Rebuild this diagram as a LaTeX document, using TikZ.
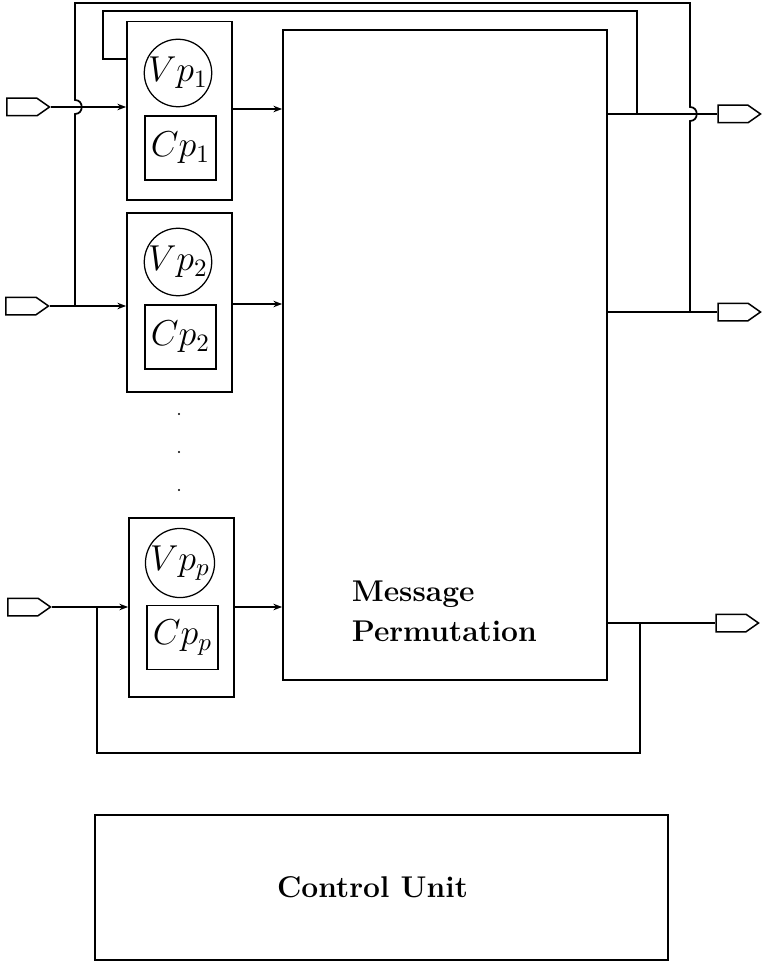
\documentclass[tikz,border=0pt]{standalone}
\usepackage{tikz}
\usetikzlibrary{arrows.meta, calc}
\usetikzlibrary{positioning, shapes.symbols}

\tikzset{
  wire/.style={line width=0.7pt},
  flow/.style={wire, -{Stealth[length=3.5pt,width=2.6pt]}},
  port/.style={draw, line width=0.6pt, signal, signal to=east, signal pointer angle=70,
    minimum width=17pt, minimum height=7pt, inner sep=0pt},
  pebox/.style={draw, line width=0.7pt, minimum width=42pt, minimum height=71.5pt},
  vpcirc/.style={draw, circle, line width=0.5pt, minimum size=25.6pt, inner sep=0pt, font=\Large},
  cpbox/.style={draw, line width=0.7pt, minimum width=28.4pt, minimum height=25.6pt, inner sep=0pt, font=\Large},
}

\begin{document}
\begin{tikzpicture}[x=0.4pt, y=-0.4pt]
    \useasboundingbox (0,0) rectangle (761,965);
    \node[pebox] (pe1) at (179.5,111) {};
    \node[vpcirc] (vp1) at (178,73) {$Vp_1$};
    \node[cpbox] (cp1) at (180.5,148) {$Cp_1$};
    \node[pebox] (pe2) at (179.5,302.5) {};
    \node[vpcirc] (vp2) at (178,262) {$Vp_2$};
    \node[cpbox] (cp2) at (180.5,337) {$Cp_2$};
    \node[pebox] (pep) at (181.5,607.5) {};
    \node[vpcirc] (vpp) at (180,563) {$Vp_p$};
    \node[cpbox] (cpp) at (182.5,637.5) {$Cp_p$};
    \foreach \i/\y in {1/414, 2/452, 3/490}
      \fill (179,\y) circle (1.2) coordinate (dot\i);
    \node[draw, line width=0.7pt, minimum width=129.6pt, minimum height=260pt] (mp) at (445,355) {};
    \node[align=left, anchor=west, font=\large\bfseries] (mplabel) at (343,611) {Message\\[2pt]Permutation};
    \node[draw, line width=0.7pt, minimum width=229.2pt, minimum height=58pt] (cu) at (381.5,887.5) {};
    \node[font=\large\bfseries] (culabel) at (372.5,887) {Control Unit};
    \node[port] (in1) at (22,107) {};
    \node[port] (in2) at (21,306) {};
    \node[port] (inp) at (23,607) {};
    \node[port] (out1) at (733,114) {};
    \node[port] (out2) at (733,312) {};
    \node[port] (out3) at (731,623) {};
    \draw[flow] (in1.east) -- (in1.east -| pe1.west);
    \draw[flow] (in2.east) -- (in2.east -| pe2.west);
    \draw[flow] (inp.east) -- (inp.east -| pep.west);
    \draw[flow] (pe1.east |- 0,109) -- (mp.west |- 0,109);
    \draw[flow] (pe2.east |- 0,304) -- (mp.west |- 0,304);
    \draw[flow] (pep.east |- inp) -- (mp.west |- inp);
    \draw[wire] (mp.east |- out1) -- (out1.west);
    \draw[wire] (mp.east |- out2) -- (out2.west);
    \draw[wire] (mp.east |- out3) -- (out3.west);
    \coordinate (jin2) at (75,306);
    \coordinate (jout2) at (690,312);
    \coordinate (jout1) at (637,114);
    \coordinate (jinp) at (97,607);
    \coordinate (jout3) at (640,623);
    \draw[wire] (jin2) -- (75,114) .. controls (84,114) and (84,100) .. (75,100)
      -- (75,3) -- (690,3) -- (690,107) .. controls (699,107) and (699,121) .. (690,121) -- (jout2);
    \draw[wire] (jout1) |- (103,11) |- (pe1.west |- 0,59);
    \draw[wire] (jout3) |- (97,753) -- (jinp);
\end{tikzpicture}
\end{document}
